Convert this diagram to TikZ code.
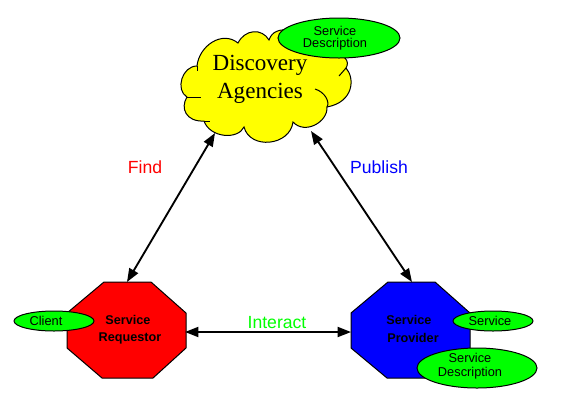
\documentclass[tikz,border=0pt]{standalone}
\usepackage{fontspec}
\setmainfont{Liberation Sans}
\newfontfamily\cloudfont{Liberation Serif}
\usetikzlibrary{arrows.meta,shapes.geometric}
\definecolor{pureyellow}{RGB}{255,255,0}
\definecolor{puregreen}{RGB}{0,255,0}
\definecolor{purered}{RGB}{255,0,0}
\definecolor{pureblue}{RGB}{0,0,255}
\tikzset{
  outline/.style={draw=black,line width=0.75pt,line join=miter},
  tag/.style={shape=ellipse,outline,fill=puregreen,inner sep=0pt},
  smalltag/.style={tag,minimum width=60pt,minimum height=15pt},
  bigtag/.style={tag,minimum width=90pt,minimum height=30pt},
  tagtext/.style={font=\fontsize{9.6pt}{9pt}\selectfont,inner sep=0pt,align=center,text=black},
  roletext/.style={font=\bfseries\fontsize{9.5pt}{9pt}\selectfont,inner sep=0pt,text=black},
  cloudtext/.style={font=\cloudfont\fontsize{17.3pt}{20pt}\selectfont,inner sep=0pt,text=black},
  linktext/.style={font=\fontsize{13.2pt}{14pt}\selectfont,inner sep=0pt},
  link/.style={>={Triangle[length=10pt,width=7.5pt]},<->,line width=1.4pt}
}
\begin{document}
\begin{tikzpicture}[x=0.75pt,y=-0.75pt]
\useasboundingbox (0,0) rectangle (571,408);
% cloud
\draw[outline,fill=pureyellow]
  (197,66) .. controls (199,46) and (222,30) .. (238,43)
  .. controls (245,29) and (262,28) .. (269,40)
  .. controls (272,31) and (280,29) .. (290,30)
  -- (345,58)
  .. controls (348,61) and (348,65) .. (346,68)
  .. controls (355,78) and (354,102) .. (327,107)
  .. controls (328,122) and (305,135) .. (293,122)
  .. controls (290,146) and (250,150) .. (244,127)
  .. controls (238,140) and (210,138) .. (204,121)
  .. controls (186,122) and (180,108) .. (187,97)
  .. controls (175,90) and (182,66) .. (197,66) -- cycle;
\draw[outline] (346,68) -- (339,76);
\draw[outline] (315,89) .. controls (325,92) and (330,102) .. (327,107);
\draw[outline] (204,121) -- (210,121);
\draw[outline] (187,97) -- (201,97);
\draw[outline] (197,66) -- (197,71);
\node[bigtag,minimum width=91.5pt] (cloudtag) at (339,38) {};
\node[tagtext] (cloudtagtext) at (335,38) {Service\\Description};
\node[cloudtext] (discovery) at (260,65) {Discovery};
\node[cloudtext] (agencies) at (260,93) {Agencies};
% requestor
\draw[outline,fill=purered] (104,282) -- (151,282) -- (186,313) -- (186,348) -- (153,378) -- (102,378) -- (67,348) -- (67,313) -- cycle;
\node[smalltag] (client) at (54,321) {};
\node[tagtext] (clienttext) at (46,321) {Client};
\node[roletext] (reqa) at (128,320) {Service};
\node[roletext] (reqb) at (130,338) {Requestor};
% provider
\draw[outline,fill=pureblue] (388,282) -- (435,282) -- (470,313) -- (470,348) -- (437,378) -- (387,378) -- (351,348) -- (351,313) -- cycle;
\node[roletext] (prova) at (409,320) {Service};
\node[roletext] (provb) at (413,338) {Provider};
\node[smalltag] (servicetag) at (493,321) {};
\node[tagtext] (servicetext) at (490,321) {Service};
\node[bigtag] (desctag) at (477,368) {};
\node[tagtext] (desctext) at (470,366) {Service\\[1.5pt]Description};
% links
\coordinate (cloudleft) at (215,133);
\coordinate (cloudright) at (311,131);
\coordinate (reqtop) at (127,282);
\coordinate (provtop) at (412,282);
\coordinate (reqright) at (185,332);
\coordinate (provleft) at (351,332);
\draw[link] (cloudleft) -- (reqtop);
\draw[link] (cloudright) -- (provtop);
\draw[link] (reqright) -- (provleft);
\node[linktext,text=purered] (find) at (145,167) {Find};
\node[linktext,text=pureblue] (publish) at (379,167) {Publish};
\node[linktext,text=puregreen] (interact) at (277,323) {Interact};
\end{tikzpicture}
\end{document}
